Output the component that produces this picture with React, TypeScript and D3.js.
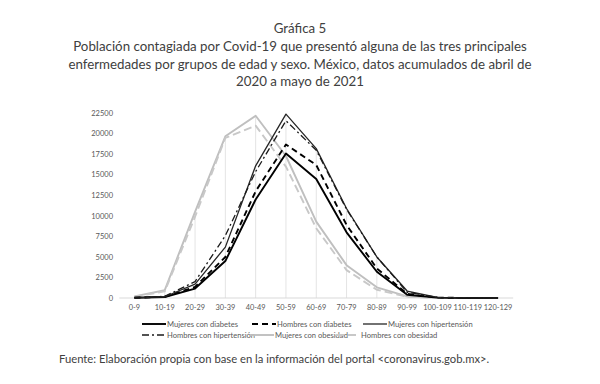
import { useEffect, useRef } from "react"
import { select, scalePoint, scaleLinear, line, max } from "d3"

const categories = ["0-9", "10-19", "20-29", "30-39", "40-49", "50-59", "60-69", "70-79", "80-89", "90-99", "100-109", "110-119", "120-129"]

const mujeresDiabetes = [30, 120, 1150, 4500, 12000, 17600, 14500, 8000, 3200, 400, 40, 5, 2]
const hombresDiabetes = [30, 150, 1350, 5000, 13000, 18700, 16200, 8900, 3600, 500, 50, 5, 2]
const mujeresHipertension = [20, 150, 1700, 6200, 16100, 22400, 18200, 10900, 5000, 850, 70, 5, 2]
const hombresHipertension = [30, 200, 2000, 7600, 15400, 21600, 18000, 10800, 5000, 700, 60, 5, 2]
const mujeresObesidad = [200, 950, 10500, 19700, 22200, 17300, 9300, 4000, 1300, 200, 20, 2, 1]
const hombresObesidad = [150, 800, 9900, 19500, 21000, 16000, 8500, 3400, 1000, 150, 15, 2, 1]

const yTicks = [0, 2500, 5000, 7500, 10000, 12500, 15000, 17500, 20000, 22500]

const titleLines = [
    "Gráfica 5",
    "Población contagiada por Covid-19 que presentó alguna de las tres principales",
    "enfermedades por grupos de edad y sexo. México, datos acumulados de abril de",
    "2020 a mayo de 2021",
]
const footer = "Fuente: Elaboración propia con base en la información del portal <coronavirus.gob.mx>."

const series = [
    { name: "Mujeres con diabetes", values: mujeresDiabetes, color: "#000", width: 1.9, dash: null },
    { name: "Hombres con diabetes", values: hombresDiabetes, color: "#000", width: 1.9, dash: "6,4" },
    { name: "Mujeres con hipertensión", values: mujeresHipertension, color: "#262626", width: 1.3, dash: null },
    { name: "Hombres con hipertensión", values: hombresHipertension, color: "#1a1a1a", width: 1.3, dash: "7,3,2,3" },
    { name: "Mujeres con obesidad", values: mujeresObesidad, color: "#bfbfbf", width: 1.9, dash: null },
    { name: "Hombres con obesidad", values: hombresObesidad, color: "#c8c8c8", width: 1.9, dash: "8,4" },
]

// legend placement (line start x, row y)
const legendSpots = [[142, 324], [252, 324], [363, 324], [142, 335], [250, 335], [336, 335]]

function App() {
    const ref = useRef(null)

    useEffect(() => {
        const svg = select(ref.current)
        svg.selectAll("*").remove()

        const font = "Lato, 'Open Sans', sans-serif"
        const x = scalePoint().domain(categories).range([119.3, 513.2]).padding(0.5)
        const y = scaleLinear().domain([0, 22500]).range([298, 113.3])

        // Title
        svg.append("g")
            .selectAll("text")
            .data(titleLines)
            .enter()
            .append("text")
            .attr("x", 300)
            .attr("y", (d, i) => 33 + i * 17.8)
            .attr("text-anchor", "middle")
            .attr("font-family", font)
            .attr("font-size", 13.3)
            .attr("fill", "#404040")
            .text(d => d)

        // Drop lines
        svg.append("g")
            .selectAll("line")
            .data(categories)
            .enter()
            .append("line")
            .attr("x1", d => x(d))
            .attr("x2", d => x(d))
            .attr("y1", y(0))
            .attr("y2", (d, i) => y(max(series, s => s.values[i])))
            .attr("stroke", "#e4e4e4")
            .attr("stroke-width", 1)

        // Axis line
        svg.append("line")
            .attr("x1", 119.3)
            .attr("x2", 513.2)
            .attr("y1", y(0))
            .attr("y2", y(0))
            .attr("stroke", "#d9d9d9")

        // Y tick labels
        svg.append("g")
            .selectAll("text")
            .data(yTicks)
            .enter()
            .append("text")
            .attr("x", 113)
            .attr("y", d => y(d))
            .attr("dy", "0.35em")
            .attr("text-anchor", "end")
            .attr("font-family", font)
            .attr("font-size", 7.5)
            .attr("fill", "#595959")
            .text(d => d)

        // X tick labels
        svg.append("g")
            .selectAll("text")
            .data(categories)
            .enter()
            .append("text")
            .attr("x", d => x(d))
            .attr("y", 309.5)
            .attr("text-anchor", "middle")
            .attr("font-family", font)
            .attr("font-size", 7.4)
            .attr("fill", "#595959")
            .text(d => d)

        // Lines
        const lineGen = line().x((d, i) => x(categories[i])).y(d => y(d))
        const order = [4, 5, 0, 1, 2, 3]
        svg.append("g")
            .selectAll("path")
            .data(order.map(i => series[i]))
            .enter()
            .append("path")
            .attr("d", d => lineGen(d.values))
            .attr("fill", "none")
            .attr("stroke", d => d.color)
            .attr("stroke-width", d => d.width)
            .attr("stroke-dasharray", d => d.dash)
            .attr("stroke-linejoin", "round")

        // Legend
        const legendItems = svg.append("g")
            .selectAll("g")
            .data(series)
            .enter()
            .append("g")
            .attr("transform", (d, i) => `translate(${legendSpots[i][0]}, ${legendSpots[i][1]})`)

        legendItems.append("line")
            .attr("x1", 0)
            .attr("x2", 24)
            .attr("stroke", d => d.color)
            .attr("stroke-width", d => d.width)
            .attr("stroke-dasharray", d => d.dash)

        legendItems.append("text")
            .attr("x", 25)
            .attr("dy", "0.35em")
            .attr("font-family", font)
            .attr("font-size", 7.6)
            .attr("fill", "#595959")
            .text(d => d.name)

        // Footer
        svg.append("text")
            .attr("x", 59)
            .attr("y", 362.5)
            .attr("font-family", font)
            .attr("font-size", 11.25)
            .attr("fill", "#404040")
            .text(footer)
    })

    return (
        <svg ref={ref} width="600" height="384" style={{ position: "absolute", left: 0, top: 0, background: "#fff" }}></svg>
    )
}

export default App
